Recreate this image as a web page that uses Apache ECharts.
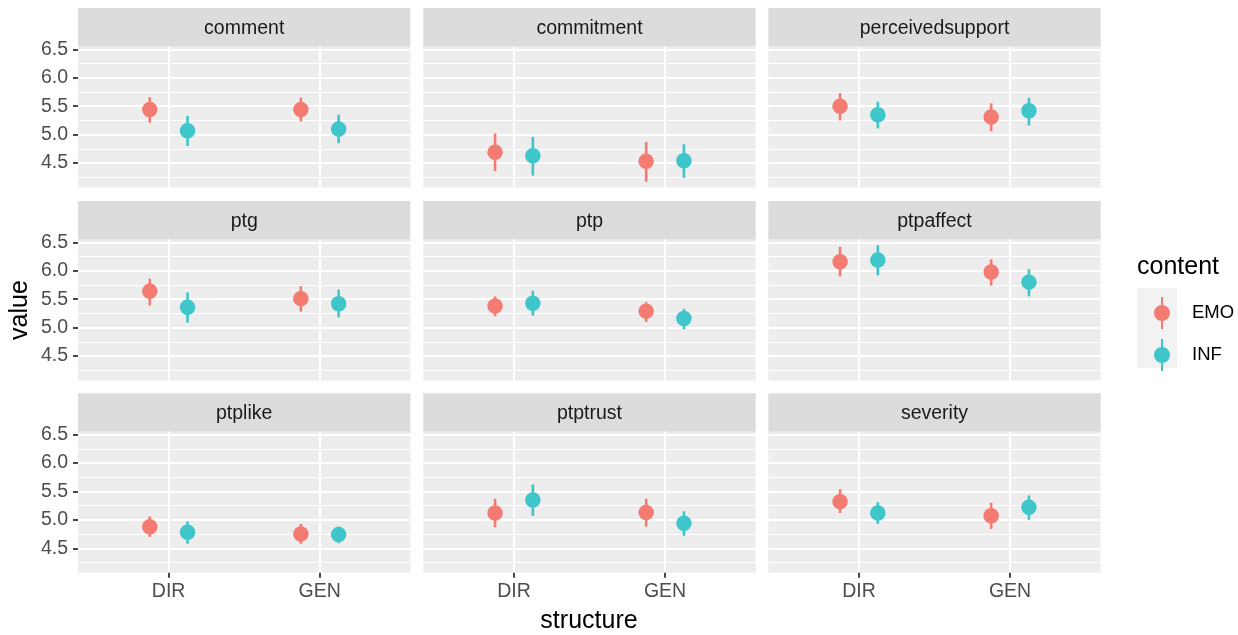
<!DOCTYPE html>
<html>
<head>
<meta charset="utf-8">
<script src="https://cdn.jsdelivr.net/npm/echarts@6/dist/echarts.min.js"></script>
<style>
html,body{margin:0;padding:0;background:#fff;}
#chart{width:1238px;height:635px;}
</style>
</head>
<body>
<div id="chart"></div>
<script>
// ---- data ----
const categories = ['DIR', 'GEN'];
const facets = ['comment', 'commitment', 'perceivedsupport', 'ptg', 'ptp', 'ptpaffect', 'ptplike', 'ptptrust', 'severity'];
const groups = ['EMO', 'INF'];
const yTicks = [4.5, 5.0, 5.5, 6.0, 6.5];
const yMinorTicks = [4.25, 4.75, 5.25, 5.75, 6.25];

const emoMean = [[5.44,5.44],[4.69,4.53],[5.50,5.31],[5.64,5.51],[5.38,5.29],[6.16,5.98],[4.88,4.75],[5.12,5.13],[5.32,5.07]];
const emoLow  = [[5.21,5.23],[4.36,4.17],[5.25,5.06],[5.39,5.28],[5.20,5.10],[5.90,5.74],[4.70,4.58],[4.87,4.88],[5.12,4.84]];
const emoHigh = [[5.66,5.65],[5.02,4.87],[5.73,5.55],[5.86,5.73],[5.55,5.45],[6.42,6.20],[5.06,4.93],[5.37,5.37],[5.54,5.30]];
const infMean = [[5.07,5.10],[4.63,4.54],[5.35,5.42],[5.36,5.42],[5.43,5.16],[6.19,5.80],[4.78,4.74],[5.35,4.94],[5.12,5.22]];
const infLow  = [[4.80,4.85],[4.28,4.24],[5.11,5.16],[5.09,5.18],[5.21,4.97],[5.92,5.55],[4.58,4.59],[5.07,4.72],[4.93,5.00]];
const infHigh = [[5.33,5.35],[4.96,4.83],[5.58,5.65],[5.62,5.67],[5.65,5.33],[6.45,6.03],[4.97,4.88],[5.62,5.15],[5.31,5.43]];

// ---- style / layout ----
const colors = { EMO: '#F47B72', INF: '#3EC6CA' };
const dodge = { EMO: -0.125, INF: 0.125 };
const colLeft = [78, 423.3, 768.3];
const panelW = 332.4;
const rowTop = [46.5, 239.5, 431.7];
const panelH = 141;
const stripH = 38.5;
const yMin = 4.07, yMax = 6.55;
const FONT = 'Liberation Sans, Arial, sans-serif';
const tickFont = 19.5;
const stripFont = 19.5;
const titleFont = 25;

const grids = [], xAxes = [], yAxes = [], series = [], graphics = [];

facets.forEach((name, i) => {
  const r = Math.floor(i / 3), c = i % 3;
  const left = colLeft[c], top = rowTop[r];
  grids.push({ left: left, top: top, width: panelW, height: panelH, show: true,
    backgroundColor: '#EDEDED', borderWidth: 0, containLabel: false });
  const bottomRow = r === 2, firstCol = c === 0;
  xAxes.push({
    type: 'value', gridIndex: i, min: 0.4, max: 2.6, position: 'bottom',
    axisLine: { show: false },
    axisTick: { show: bottomRow, customValues: [1, 2], length: 5, lineStyle: { color: '#333333', width: 1.8 } },
    axisLabel: { show: bottomRow, customValues: [1, 2], formatter: v => categories[Math.round(v) - 1] || '',
      color: '#4D4D4D', fontSize: tickFont, fontFamily: FONT, margin: 9 },
    splitLine: { show: true, lineStyle: { color: '#FFFFFF', width: 2 } }
  });
  yAxes.push({
    type: 'value', gridIndex: i, min: yMin, max: yMax,
    axisLine: { show: false },
    axisTick: { show: firstCol, customValues: yTicks, length: 5, lineStyle: { color: '#333333', width: 1.8 } },
    axisLabel: { show: firstCol, customValues: yTicks, formatter: v => v.toFixed(1),
      color: '#4D4D4D', fontSize: tickFont, fontFamily: FONT, margin: 10 },
    splitLine: { show: true, lineStyle: { color: '#FFFFFF', width: 2 } }
  });
  yAxes.push({
    type: 'value', gridIndex: i, min: yMin, max: yMax, position: 'left',
    axisLine: { show: false },
    axisTick: { show: false, customValues: yMinorTicks },
    axisLabel: { show: false, customValues: yMinorTicks },
    splitLine: { show: true, lineStyle: { color: '#FFFFFF', width: 1 } }
  });

  const sets = { EMO: [emoMean[i], emoLow[i], emoHigh[i]], INF: [infMean[i], infLow[i], infHigh[i]] };
  groups.forEach(g => {
    const [m, lo, hi] = sets[g];
    const errData = categories.map((cat, k) => [k + 1 + dodge[g], lo[k], hi[k]]);
    const ptData = categories.map((cat, k) => [k + 1 + dodge[g], m[k]]);
    series.push({
      name: g, type: 'custom', xAxisIndex: i, yAxisIndex: 2 * i, z: 3,
      itemStyle: { color: colors[g] },
      encode: { x: 0, y: [1, 2] },
      renderItem: (params, api) => {
        const x = api.value(0);
        const p1 = api.coord([x, api.value(1)]);
        const p2 = api.coord([x, api.value(2)]);
        return { type: 'line', shape: { x1: p1[0], y1: p1[1], x2: p2[0], y2: p2[1] },
          style: { stroke: colors[g], lineWidth: 2.6 } };
      },
      data: errData, silent: true
    });
    series.push({
      name: g, type: 'scatter', xAxisIndex: i, yAxisIndex: 2 * i, z: 4,
      symbol: 'circle', symbolSize: 15.5, itemStyle: { color: colors[g], opacity: 1 },
      data: ptData, silent: true
    });
  });

  // strip
  graphics.push({
    type: 'group', left: left, top: top - stripH, children: [
      { type: 'rect', shape: { x: 0, y: 0, width: panelW, height: stripH }, style: { fill: '#DCDCDC' } },
      { type: 'text', x: panelW / 2, y: stripH / 2 + 1, style: { text: name, fill: '#1A1A1A',
        font: stripFont + 'px ' + FONT, textAlign: 'center', textVerticalAlign: 'middle' } }
    ]
  });
});

// axis titles
graphics.push({ type: 'text', x: 589, y: 621, style: { text: 'structure', fill: '#000',
  font: titleFont + 'px ' + FONT, textAlign: 'center', textVerticalAlign: 'middle' } });
graphics.push({ type: 'text', x: 20, y: 310, rotation: Math.PI / 2, style: { text: 'value', fill: '#000',
  font: titleFont + 'px ' + FONT, textAlign: 'center', textVerticalAlign: 'middle' } });
// legend title & key background
graphics.push({ type: 'text', x: 1137, y: 267, style: { text: 'content', fill: '#000',
  font: titleFont + 'px ' + FONT, textAlign: 'left', textVerticalAlign: 'middle' } });
graphics.push({ type: 'rect', z: -1, shape: { x: 1137, y: 288, width: 40, height: 80 }, style: { fill: '#F2F2F2' } });

const keyIcon = 'path://M7,0 H9 V32 H7 Z M8,8 A8,8 0 1,1 8,24 A8,8 0 1,1 8,8 Z';

const option = {
  animation: false,
  backgroundColor: '#FFFFFF',
  grid: grids,
  xAxis: xAxes,
  yAxis: yAxes,
  series: series,
  graphic: graphics,
  legend: {
    orient: 'vertical', left: 1149, top: 292, itemGap: 10, itemWidth: 16, itemHeight: 32,
    data: groups.map(g => ({ name: g, icon: keyIcon, itemStyle: { color: colors[g] } })),
    textStyle: { color: '#000', fontSize: 18.5, fontFamily: FONT, padding: [0, 0, 0, 17] },
    selectedMode: false
  }
};

const chart = echarts.init(document.getElementById('chart'), null, { renderer: 'canvas' });
chart.setOption(option);
</script>
</body>
</html>
